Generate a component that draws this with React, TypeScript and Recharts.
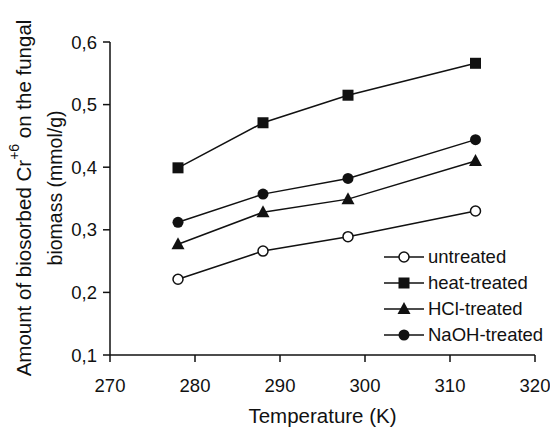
import { LineChart, Line, XAxis, YAxis, Legend, Label } from 'recharts';

const temperatures = [278, 288, 298, 313];
const untreated = [0.221, 0.266, 0.289, 0.33];
const heatTreated = [0.399, 0.471, 0.515, 0.566];
const hclTreated = [0.277, 0.328, 0.349, 0.41];
const naohTreated = [0.312, 0.357, 0.382, 0.444];

const xTicks = [270, 280, 290, 300, 310, 320];
const yTicks = [0.1, 0.2, 0.3, 0.4, 0.5, 0.6];

const seriesNames = ['untreated', 'heat-treated', 'HCl-treated', 'NaOH-treated'];

const data = temperatures.map((t, i) => ({
  t,
  untreated: untreated[i],
  heat: heatTreated[i],
  hcl: hclTreated[i],
  naoh: naohTreated[i],
}));

const INK = '#111';
const FONT = '"Liberation Sans", Arial, Helvetica, sans-serif';

type Kind = 'open' | 'square' | 'triangle' | 'circle';

const marker = (kind: Kind, cx: number, cy: number, key?: string | number) => {
  if (kind === 'open') return <circle key={key} cx={cx} cy={cy} r={5} fill="#fff" stroke={INK} strokeWidth={1.5} />;
  if (kind === 'square') return <rect key={key} x={cx - 5.5} y={cy - 5.5} width={11} height={11} fill={INK} />;
  if (kind === 'triangle')
    return <polygon key={key} points={`${cx},${cy - 7} ${cx + 6.5},${cy + 5} ${cx - 6.5},${cy + 5}`} fill={INK} />;
  return <circle key={key} cx={cx} cy={cy} r={5.5} fill={INK} />;
};

const dot = (kind: Kind) => (props: any) => marker(kind, props.cx, props.cy, props.index);

const kinds: Kind[] = ['open', 'square', 'triangle', 'circle'];

const LegendBox = () => (
  <div style={{ fontFamily: FONT, fontSize: 18.5, color: INK, lineHeight: '26px' }}>
    {seriesNames.map((name, i) => (
      <div key={name} style={{ display: 'flex', alignItems: 'center', whiteSpace: 'nowrap' }}>
        <svg width={42} height={16} style={{ marginRight: 3 }}>
          <line x1={1} y1={8} x2={41} y2={8} stroke={INK} strokeWidth={1.5} />
          {marker(kinds[i], 21, 8)}
        </svg>
        {name}
      </div>
    ))}
  </div>
);

const YTitle = () => (
  <g fontFamily={FONT} fill={INK}>
    <text x={23} y={198} transform="rotate(-90 23 198)" textAnchor="middle" dominantBaseline="central" fontSize={20.5}>
      Amount of biosorbed Cr
      <tspan dy={-9} fontSize={14}>+6</tspan>
      <tspan dy={9}> on the fungal</tspan>
    </text>
    <text x={55} y={188} transform="rotate(-90 55 188)" textAnchor="middle" dominantBaseline="central" fontSize={19.5}>
      biomass (mmol/g)
    </text>
  </g>
);

export default function App() {
  const tickStyle = { fill: INK, fontSize: 18.5, fontFamily: FONT };
  return (
    <div style={{ position: 'absolute', left: 0, top: 0, background: '#fff' }}>
      <LineChart width={550} height={427} data={data} margin={{ top: 42, right: 15, bottom: 0, left: 0 }}>
        <XAxis
          type="number"
          dataKey="t"
          domain={[270, 320]}
          ticks={xTicks}
          tick={tickStyle}
          tickSize={7}
          tickMargin={17}
          stroke={INK}
          strokeWidth={1.5}
          height={72}
        >
          <Label value="Temperature (K)" position="insideBottom" offset={4.5} fill={INK} fontSize={20.5} fontFamily={FONT} />
        </XAxis>
        <YAxis
          type="number"
          domain={[0.1, 0.6]}
          ticks={yTicks}
          tick={tickStyle}
          tickFormatter={(v: number) => v.toFixed(1).replace('.', ',')}
          tickSize={7}
          tickMargin={6}
          stroke={INK}
          strokeWidth={1.5}
          width={110}
          label={<YTitle />}
        />
        <Legend layout="vertical" align="center" verticalAlign="middle" content={<LegendBox />} wrapperStyle={{ left: 383, top: 244, width: 170 }} />
        <Line dataKey="untreated" name={seriesNames[0]} stroke={INK} strokeWidth={1.5} dot={dot('open')} isAnimationActive={false} />
        <Line dataKey="heat" name={seriesNames[1]} stroke={INK} strokeWidth={1.5} dot={dot('square')} isAnimationActive={false} />
        <Line dataKey="hcl" name={seriesNames[2]} stroke={INK} strokeWidth={1.5} dot={dot('triangle')} isAnimationActive={false} />
        <Line dataKey="naoh" name={seriesNames[3]} stroke={INK} strokeWidth={1.5} dot={dot('circle')} isAnimationActive={false} />
      </LineChart>
    </div>
  );
}
